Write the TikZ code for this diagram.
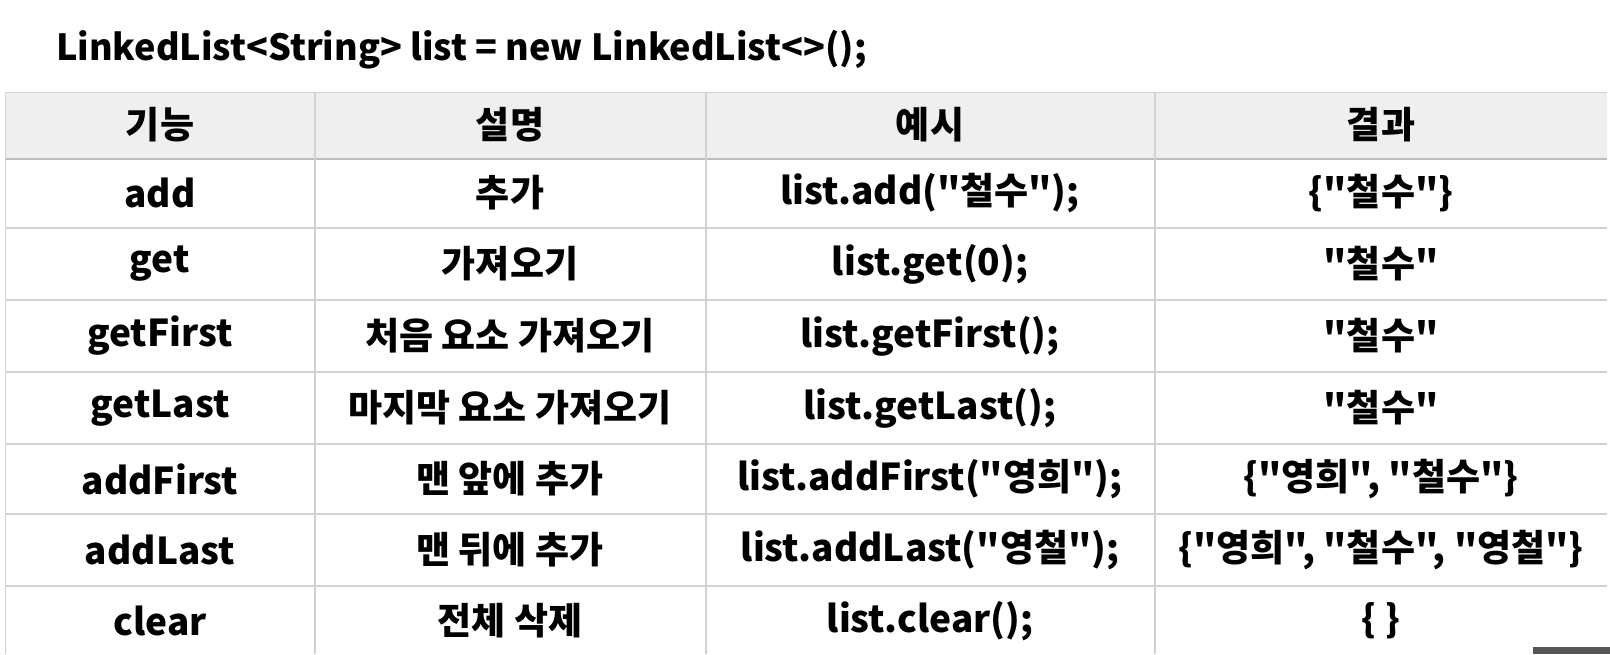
\documentclass[tikz,border=0pt]{standalone}
\usepackage{fontspec}
\newfontfamily\kr{Noto Sans CJK KR}
\definecolor{headgray}{HTML}{EFEFEF}
\definecolor{gridgray}{HTML}{D2D2D2}
\definecolor{barcol}{HTML}{555555}
\tikzset{
  cell/.style={inner sep=0pt, anchor=center, font=\kr\fontsize{37}{44}\selectfont\bfseries},
  grid/.style={draw=gridgray, line width=2pt},
}
\begin{document}
\begin{tikzpicture}[x=1pt,y=-1pt]
\useasboundingbox (0,0) rectangle (1610,654);
\fill[white] (0,0) rectangle (1610,654);
% title
\node[inner sep=0pt, anchor=base west, font=\kr\fontsize{36}{42}\selectfont\bfseries] (title) at (56,60) {LinkedList<String> list = new LinkedList<>();};
% header
\fill[headgray] (5,92) rectangle (1607,159);
\draw[grid, line width=1pt] (5,92) -- (1607,92);
% horizontal lines
\foreach \yy in {159,228,300,372,444,514,586} {\draw[grid] (5,\yy) -- (1607,\yy);}
\draw[grid, line width=2.5pt, draw=gridgray!90!black] (5,159) -- (1607,159);
% vertical lines
\foreach \xx in {315,706,1155} {\draw[grid] (\xx,92) -- (\xx,654);}
\draw[grid, line width=1pt] (5,92) -- (5,654);
% header cells
\node[cell] (h1) at (160,125) {기능};
\node[cell] (h2) at (510,125) {설명};
\node[cell] (h3) at (930,125) {예시};
\node[cell] (h4) at (1381,125) {결과};
% row 1
\node[cell] (a1) at (160,193) {add};
\node[cell] (b1) at (510,193) {추가};
\node[cell] (c1) at (930,193) {list.add("철수");};
\node[cell] (d1) at (1381,193) {\{"철수"\}};
% row 2
\node[cell] (a2) at (160,264) {get};
\node[cell] (b2) at (510,264) {가져오기};
\node[cell] (c2) at (930,264) {list.get(0);};
\node[cell] (d2) at (1381,264) {"철수"};
% row 3
\node[cell] (a3) at (160,336) {getFirst};
\node[cell] (b3) at (510,336) {처음 요소 가져오기};
\node[cell] (c3) at (930,336) {list.getFirst();};
\node[cell] (d3) at (1381,336) {"철수"};
% row 4
\node[cell] (a4) at (160,408) {getLast};
\node[cell] (b4) at (510,408) {마지막 요소 가져오기};
\node[cell] (c4) at (930,408) {list.getLast();};
\node[cell] (d4) at (1381,408) {"철수"};
% row 5
\node[cell] (a5) at (160,479) {addFirst};
\node[cell] (b5) at (510,479) {맨 앞에 추가};
\node[cell] (c5) at (930,479) {list.addFirst("영희");};
\node[cell] (d5) at (1381,479) {\{"영희", "철수"\}};
% row 6
\node[cell] (a6) at (160,550) {addLast};
\node[cell] (b6) at (510,550) {맨 뒤에 추가};
\node[cell] (c6) at (930,550) {list.addLast("영철");};
\node[cell] (d6) at (1381,550) {\{"영희",~"철수",~"영철"\}};
% row 7
\node[cell] (a7) at (160,621) {clear};
\node[cell] (b7) at (510,621) {전체 삭제};
\node[cell] (c7) at (930,621) {list.clear();};
\node[cell] (d7) at (1381,621) {\{ \}};
% dark bar bottom right
\fill[barcol] (1533,647) rectangle (1610,654);
\end{tikzpicture}
\end{document}
